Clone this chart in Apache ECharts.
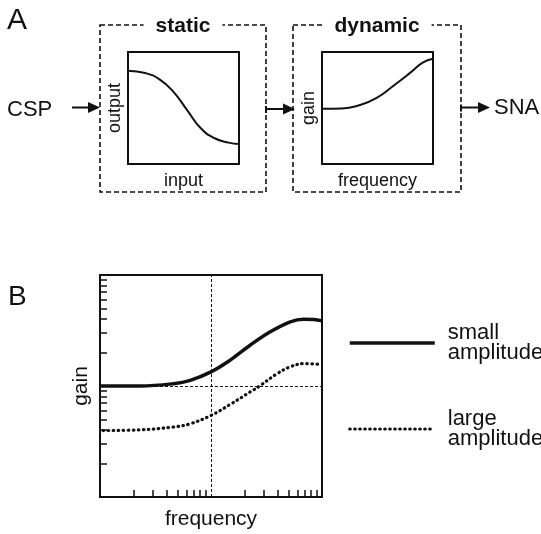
<!DOCTYPE html>
<html>
<head>
<meta charset="utf-8">
<script src="https://cdn.jsdelivr.net/npm/echarts@6/dist/echarts.min.js"></script>
<style>
html, body { margin: 0; padding: 0; background: #fff; }
#chart { width: 541px; height: 534px; }
</style>
</head>
<body>
<div id="chart"></div>
<script>
// panel A, static stage (output vs input, arbitrary units 0..1)
const staticInput = [0, 0.156, 0.281, 0.406, 0.531, 0.656, 0.781, 0.906, 1]
const staticOutput = [0.833, 0.812, 0.758, 0.648, 0.484, 0.319, 0.23, 0.191, 0.179]
// panel A, dynamic stage (gain vs frequency, arbitrary units 0..1)
const dynFreq = [0, 0.18, 0.334, 0.489, 0.644, 0.799, 0.907, 1]
const dynGain = [0.493, 0.496, 0.525, 0.588, 0.699, 0.818, 0.905, 0.94]
// panel B, log-log gain curves
const freqSmall = [0.1, 0.23, 0.46, 0.65, 1.0, 1.49, 2.25, 3.42, 5.18, 6.84, 8.41, 10]
const gainSmall = [1.0, 1.0, 1.05, 1.125, 1.34, 1.71, 2.33, 3.08, 3.79, 4.0, 3.97, 3.86]
const freqLarge = [0.107, 0.23, 0.46, 0.65, 1.0, 1.49, 2.25, 2.78, 3.93, 5.18, 6.84, 9.6]
const gainLarge = [0.397, 0.403, 0.427, 0.457, 0.543, 0.683, 0.883, 1.01, 1.29, 1.49, 1.59, 1.57]
const logTicks = [0.2, 0.3, 0.4, 0.5, 0.6, 0.7, 0.8, 0.9, 2, 3, 4, 5, 6, 7, 8, 9]
const seriesNames = ['small\namplitude', 'large\namplitude']

const font = "'Liberation Sans', Arial, sans-serif"
const ink = '#111'
const dotted = [0.5, 4.5]

function pairs(xs, ys) {
  return xs.map((x, i) => [x, ys[i]])
}

function plainAxis(gridIndex, name, gap) {
  return {
    type: 'value', gridIndex: gridIndex, min: 0, max: 1,
    name: name, nameLocation: 'middle', nameGap: gap,
    nameTextStyle: { fontFamily: font, fontSize: 18, color: ink },
    axisLine: { show: false }, axisTick: { show: false },
    axisLabel: { show: false }, splitLine: { show: false }
  }
}

function logAxis(name, gap) {
  return {
    type: 'log', logBase: 10, gridIndex: 2, min: 0.1, max: 10,
    name: name, nameLocation: 'middle', nameGap: gap,
    nameTextStyle: { fontFamily: font, fontSize: 21, color: ink },
    axisLine: { show: false },
    axisTick: { inside: true, length: 7, customValues: logTicks, lineStyle: { color: ink, width: 1.5 } },
    axisLabel: { show: false }, splitLine: { show: false }
  }
}

function arrow(x1, x2, y, tick) {
  const els = [
    { type: 'line', shape: { x1: x1, y1: y, x2: x2 - 8, y2: y }, style: { stroke: ink, lineWidth: 2 } },
    { type: 'polygon', shape: { points: [[x2 - 12, y - 5.5], [x2, y], [x2 - 12, y + 5.5]] }, style: { fill: ink } }
  ]
  if (tick) {
    els.push({ type: 'line', shape: { x1: x1, y1: y - 3, x2: x1, y2: y + 4 }, style: { stroke: ink, lineWidth: 2 } })
  }
  return els
}

const boxStyle = { fill: null, stroke: ink, lineWidth: 1.6, lineDash: [5, 3] }
const gridStyle = { show: true, borderColor: ink, borderWidth: 2, backgroundColor: 'transparent' }
const hiddenSymbol = { opacity: 0 }

const chart = echarts.init(document.getElementById('chart'))
chart.setOption({
  animation: false,
  backgroundColor: '#fff',
  grid: [
    Object.assign({ left: 128, top: 52, width: 111, height: 112 }, gridStyle),
    Object.assign({ left: 322, top: 52, width: 111, height: 112 }, gridStyle),
    Object.assign({ left: 100, top: 275, width: 222, height: 222 }, gridStyle)
  ],
  xAxis: [plainAxis(0, 'input', 8), plainAxis(1, 'frequency', 8), logAxis('frequency', 12)],
  yAxis: [plainAxis(0, 'output', 4), plainAxis(1, 'gain', 4), logAxis('gain', 8)],
  legend: {
    orient: 'vertical', left: 348, top: 322, padding: 0,
    itemWidth: 85, itemHeight: 4, itemGap: 44,
    selectedMode: false,
    data: [
      { name: seriesNames[0], itemStyle: hiddenSymbol, lineStyle: { width: 3.5, type: 'solid' } },
      { name: seriesNames[1], itemStyle: hiddenSymbol, lineStyle: { width: 3.2, type: dotted, cap: 'round' } }
    ],
    textStyle: { fontFamily: font, fontSize: 22, lineHeight: 20, color: ink, padding: [0, 0, 0, 8] }
  },
  series: [
    {
      type: 'line', xAxisIndex: 0, yAxisIndex: 0, smooth: 0.5, symbol: 'none',
      lineStyle: { color: ink, width: 2 }, data: pairs(staticInput, staticOutput)
    },
    {
      type: 'line', xAxisIndex: 1, yAxisIndex: 1, smooth: 0.5, symbol: 'none',
      lineStyle: { color: ink, width: 2 }, data: pairs(dynFreq, dynGain)
    },
    {
      name: seriesNames[0], type: 'line', xAxisIndex: 2, yAxisIndex: 2, smooth: 0.4, symbol: 'none',
      itemStyle: { color: ink },
      lineStyle: { color: ink, width: 3.5 }, data: pairs(freqSmall, gainSmall),
      markLine: {
        silent: true, symbol: 'none', label: { show: false },
        lineStyle: { color: ink, width: 1, type: [3, 2] },
        data: [{ xAxis: 1 }, { yAxis: 1 }]
      }
    },
    {
      name: seriesNames[1], type: 'line', xAxisIndex: 2, yAxisIndex: 2, smooth: 0.4, symbol: 'none',
      itemStyle: { color: ink },
      lineStyle: { color: ink, width: 3.2, type: dotted, cap: 'round' }, data: pairs(freqLarge, gainLarge)
    }
  ],
  graphic: [
    { type: 'text', left: 7, top: 6, style: { text: 'A', font: '30px ' + font, fill: ink } },
    { type: 'text', left: 8, top: 283, style: { text: 'B', font: '28px ' + font, fill: ink } },
    { type: 'rect', shape: { x: 100, y: 25, width: 166, height: 167 }, style: boxStyle },
    { type: 'rect', shape: { x: 293, y: 25, width: 168, height: 167 }, style: boxStyle },
    { type: 'text', x: 183, y: 26, z: 10, style: { text: 'static', font: 'bold 21px ' + font, fill: ink, align: 'center', verticalAlign: 'middle', backgroundColor: '#fff', padding: [0, 12] } },
    { type: 'text', x: 377, y: 26, z: 10, style: { text: 'dynamic', font: 'bold 21px ' + font, fill: ink, align: 'center', verticalAlign: 'middle', backgroundColor: '#fff', padding: [0, 12] } },
    { type: 'text', x: 7, y: 110, style: { text: 'CSP', font: '22px ' + font, fill: ink, verticalAlign: 'middle' } },
    { type: 'text', x: 494, y: 108, style: { text: 'SNA', font: '22px ' + font, fill: ink, verticalAlign: 'middle' } },
    ...arrow(72, 100, 107.5, false),
    ...arrow(266, 295, 109, true),
    ...arrow(461, 490, 107.5, true)
  ]
})
</script>
</body>
</html>
